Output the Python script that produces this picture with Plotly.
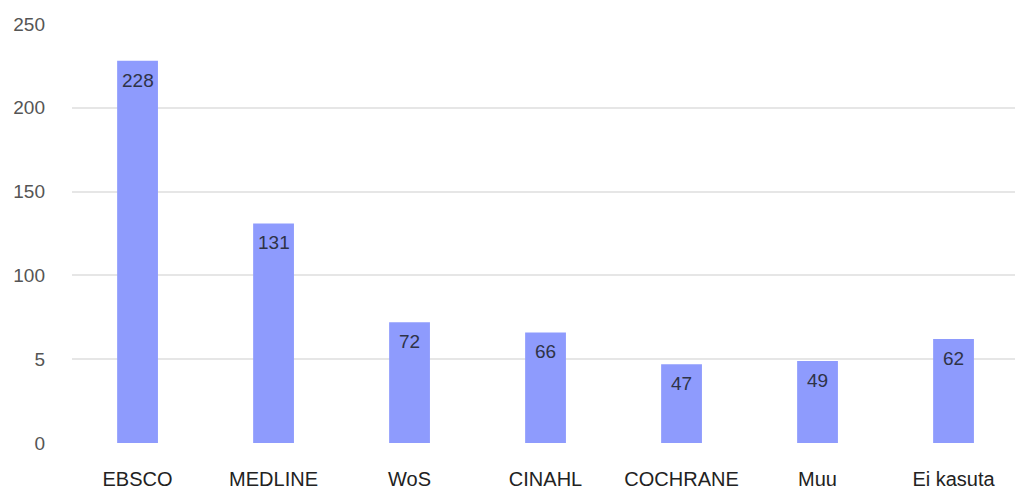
import plotly.graph_objects as go

categories = ["EBSCO", "MEDLINE", "WoS", "CINAHL", "COCHRANE", "Muu", "Ei kasuta"]
values = [228, 131, 72, 66, 47, 49, 62]
y_tick_vals = [0, 50, 100, 150, 200, 250]
y_tick_text = ["0", "5", "100", "150", "200", "250"]

FONT = "Liberation Sans, Arial, sans-serif"

fig = go.Figure()
fig.add_trace(go.Bar(
    x=categories, y=values,
    marker=dict(color="#8e9bfd", line=dict(width=0)),
    width=0.30,
    hoverinfo="skip",
))

for c, v in zip(categories, values):
    fig.add_annotation(x=c, y=v, text=str(v), showarrow=False,
                       yanchor="top", yshift=-7,
                       font=dict(family=FONT, size=19, color="#2f3347"))

fig.update_layout(
    width=1015, height=490,
    margin=dict(l=72, r=0, t=24, b=47),
    paper_bgcolor="white", plot_bgcolor="white",
    showlegend=False,
    font=dict(family=FONT),
)
fig.update_xaxes(
    range=[-0.482, 6.452],
    showgrid=False, showline=False, zeroline=False,
    tickfont=dict(family=FONT, size=20, color="#222222"),
    ticks="", ticklabelstandoff=22, automargin=False,
)
fig.update_yaxes(
    range=[0, 250],
    tickvals=y_tick_vals, ticktext=y_tick_text,
    showgrid=True, gridcolor="#e6e6e6", gridwidth=1.5,
    zeroline=False, showline=False,
    tickfont=dict(family=FONT, size=19, color="#555555"),
    ticks="", ticklabelstandoff=26, automargin=False,
)

fig.write_html("out.html")
